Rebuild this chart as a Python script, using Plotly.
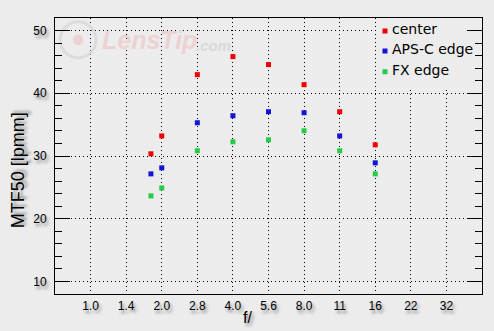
import numpy as np
import plotly.graph_objects as go

# ---- data ----
f_numbers = [1.8, 2.0, 2.8, 4.0, 5.6, 8.0, 11, 16]
center = [30.35, 33.2, 42.97, 45.85, 44.57, 41.37, 37.06, 31.78]
apsc_edge = [27.15, 28.11, 35.3, 36.42, 37.06, 36.9, 33.2, 28.91]
fx_edge = [23.64, 24.91, 30.83, 32.26, 32.58, 34.02, 30.83, 27.15]
x_tick_labels = ["1.0", "1.4", "2.0", "2.8", "4.0", "5.6", "8.0", "11", "16", "22", "32"]
y_tick_values = [10, 20, 30, 40, 50]
series_names = ["center", "APS-C edge", "FX edge"]
series_colors = ["#f00000", "#1414d8", "#22cc44"]


def stop_position(f):
    """Position in f-stops from f/1.0; nominal full stops snap to exact stops."""
    s = 2 * np.log2(float(f))
    k = round(s)
    return float(k) if abs(s - k) < 0.1 else float(s)


x_pos = [stop_position(f) for f in f_numbers]
tick_pos = [stop_position(t) for t in x_tick_labels]
X_RANGE = [-1, 11]
Y_RANGE = [8, 52]

BG = "#ececec"
shadow = "2px 3px 3px #888888"

fig = go.Figure()
for name, vals, col in zip(series_names, [center, apsc_edge, fx_edge], series_colors):
    fig.add_trace(go.Scatter(
        x=x_pos, y=vals, mode="markers", name=name,
        marker=dict(symbol="square", size=5, color=col, line=dict(width=0)),
    ))

fig.update_layout(
    width=494, height=331,
    margin=dict(l=55, r=12, t=18, b=37),
    paper_bgcolor=BG, plot_bgcolor=BG,
    font=dict(family="Liberation Sans, Arial, sans-serif", size=12, color="#000"),
    showlegend=False,
)

fig.update_xaxes(
    range=X_RANGE, tickmode="array", tickvals=tick_pos, ticktext=x_tick_labels,
    ticks="", showline=True, linecolor="#000", linewidth=1, mirror=True,
    showgrid=True, gridcolor="#000", gridwidth=1, griddash="1px,3px",
    zeroline=False, ticklabelstandoff=1,
    tickfont=dict(size=12, shadow=shadow),
)
fig.update_yaxes(
    range=Y_RANGE, tickmode="array", tickvals=y_tick_values,
    ticks="inside", ticklen=15, tickcolor="#000", tickwidth=1,
    minor=dict(dtick=2, ticks="inside", ticklen=7, tickcolor="#000", showgrid=False),
    showline=True, linecolor="#000", linewidth=1, mirror="allticks",
    showgrid=True, gridcolor="#000", gridwidth=1, griddash="1px,3px",
    zeroline=False, ticklabelstandoff=5,
    tickfont=dict(size=12, shadow=shadow),
)

# axis titles (offset from centre as in the reference)
fig.add_annotation(
    xref="paper", yref="paper", x=-0.088, y=0.45, textangle=-90,
    xanchor="center", yanchor="middle", showarrow=False,
    text="MTF50 [lpmm]", font=dict(size=18, shadow=shadow),
)
fig.add_annotation(
    xref="paper", yref="paper", x=0.451, y=-0.086,
    xanchor="center", yanchor="middle", showarrow=False,
    text="f/", font=dict(size=16, shadow=shadow),
)

# legend: background box hiding grid (ticks stay on top), markers and labels
def fx(p):
    return X_RANGE[0] + p * (X_RANGE[1] - X_RANGE[0])


def fy(p):
    return Y_RANGE[0] + p * (Y_RANGE[1] - Y_RANGE[0])


fig.add_shape(
    type="rect", xref="x", yref="y",
    x0=fx(0.756), x1=fx(1.0), y0=fy(0.745), y1=fy(1.0),
    fillcolor=BG, line=dict(width=0), layer="between",
)
legend_rows_y = [0.9529, 0.8804, 0.8054]
for name, col, yy in zip(series_names, series_colors, legend_rows_y):
    fig.add_shape(
        type="rect", xref="paper", yref="paper",
        x0=0.7728 - 0.00585, x1=0.7728 + 0.00585,
        y0=yy - 0.00906, y1=yy + 0.00906,
        fillcolor=col, line=dict(width=0),
    )
    fig.add_annotation(
        xref="paper", yref="paper", x=0.784, y=yy + 0.006,
        xanchor="left", yanchor="middle", showarrow=False,
        text=name, font=dict(family="DejaVu Sans", size=14, color="#000"),
    )

# faint watermark
fig.add_annotation(
    xref="paper", yref="paper", x=0.105, y=0.921, xanchor="left", yanchor="middle",
    text="<b><i>LensTip</i></b>", showarrow=False,
    font=dict(family="Liberation Sans", size=25, color="#ecd2d2"),
)
fig.add_annotation(
    xref="paper", yref="paper", x=0.325, y=0.90, xanchor="left", yanchor="middle",
    text="<b><i>.com</i></b>", showarrow=False,
    font=dict(family="Liberation Sans", size=15, color="#d9d9d9"),
)
fig.add_shape(
    type="circle", xref="x", yref="y",
    x0=fx(0.054 - 0.042), x1=fx(0.054 + 0.042), y0=fy(0.921 - 0.065), y1=fy(0.921 + 0.065),
    line=dict(color="#dcdcdc", width=3), layer="between",
)
fig.add_shape(
    type="circle", xref="x", yref="y",
    x0=fx(0.054 - 0.012), x1=fx(0.054 + 0.012), y0=fy(0.921 - 0.019), y1=fy(0.921 + 0.019),
    fillcolor="#ecd2d2", line=dict(width=0), layer="between",
)

fig.write_html("out.html")
